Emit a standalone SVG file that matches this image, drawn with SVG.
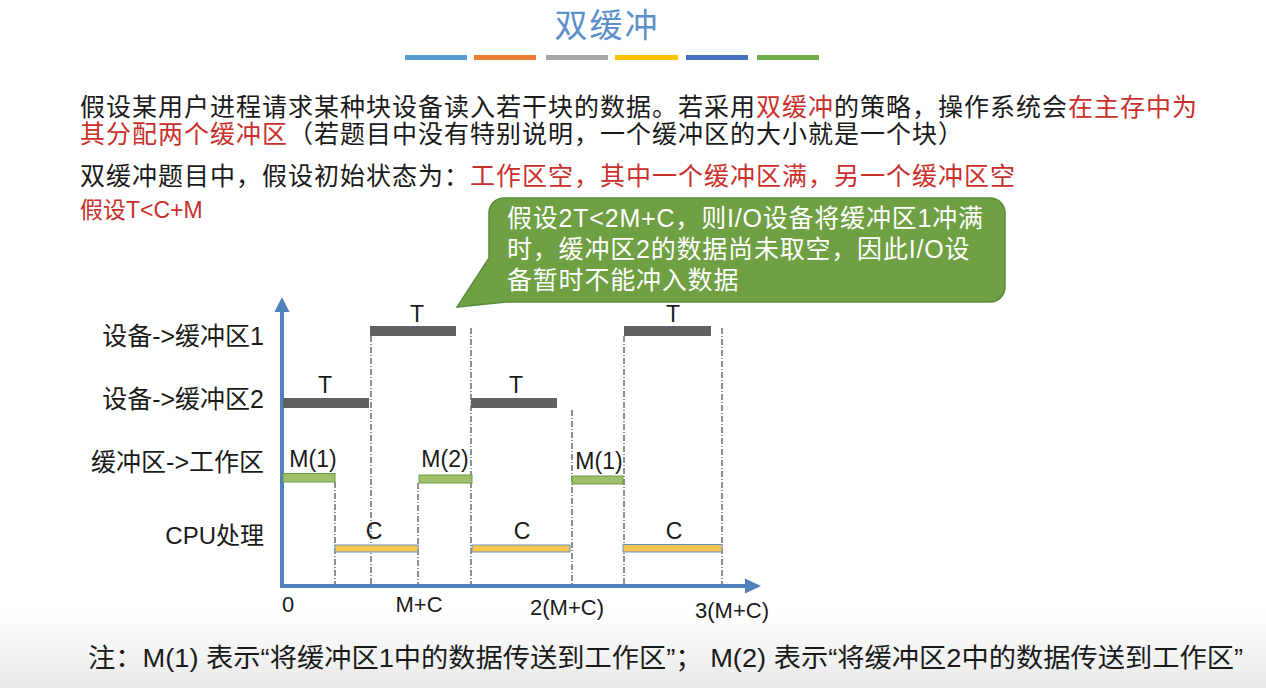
<svg xmlns="http://www.w3.org/2000/svg" width="1266" height="688" viewBox="0 0 1266 688">
<defs>
<style>
.cn{font-family:"Liberation Sans","Noto Sans CJK SC",sans-serif;}
.p{font-size:25px;letter-spacing:1px;fill:#1a1a1a;}
.r{fill:#c9302c;}
.lbl{font-size:25px;fill:#1a1a1a;text-anchor:end;}
.bl{font-size:23px;fill:#1a1a1a;text-anchor:middle;}
.xl{font-size:22px;fill:#1a1a1a;text-anchor:middle;}
.gray{fill:#616161;}
.green{fill:#9fbf6b;stroke:#6f9a45;stroke-width:1;}
.yel{fill:#f6c650;stroke:#6b8fc2;stroke-width:1;}
.dash{stroke:#222;stroke-width:1;stroke-dasharray:6,2,1,2;fill:none;}
.axis{stroke:#4f81bd;stroke-width:4;fill:none;}
.head{fill:#4f81bd;}
.ct{font-size:25px;letter-spacing:0.8px;fill:#ffffff;}
</style>
<linearGradient id="band" x1="0" y1="0" x2="0" y2="1">
<stop offset="0" stop-color="#ffffff"/>
<stop offset="1" stop-color="#e9e9e9"/>
</linearGradient>
</defs>
<rect x="0" y="0" width="1266" height="688" fill="#ffffff"/>
<rect x="0" y="612" width="1266" height="76" fill="url(#band)"/>

<g id="title">
<text class="cn" x="607" y="37" font-size="33" letter-spacing="2" fill="#5b8fc9" text-anchor="middle">双缓冲</text>
<rect x="405" y="55" width="62" height="5" fill="#5b9bd5"/>
<rect x="474" y="55" width="62" height="5" fill="#ed7d31"/>
<rect x="546" y="55" width="62" height="5" fill="#a5a5a5"/>
<rect x="615" y="55" width="63" height="5" fill="#ffc000"/>
<rect x="686" y="55" width="62" height="5" fill="#4472c4"/>
<rect x="757" y="55" width="62" height="5" fill="#70ad47"/>
</g>

<g id="paragraph" class="cn p">
<text x="80" y="116">假设某用户进程请求某种块设备读入若干块的数据。若采用<tspan class="r">双缓冲</tspan>的策略，操作系统会<tspan class="r">在主存中为</tspan></text>
<text x="80" y="143"><tspan class="r">其分配两个缓冲区</tspan>（若题目中没有特别说明，一个缓冲区的大小就是一个块）</text>
<text x="80" y="185">双缓冲题目中，假设初始状态为：<tspan class="r">工作区空，其中一个缓冲区满，另一个缓冲区空</tspan></text>
</g>
<g id="assumption">
<text class="cn r" x="80" y="218" font-size="23">假设T&lt;C+M</text>
</g>

<g id="callout">
<path d="M 504 198 H 990 A 15 15 0 0 1 1005 213 V 287 A 15 15 0 0 1 990 302 H 506 L 457 307 L 489 258 V 213 A 15 15 0 0 1 504 198 Z" fill="#6fa043" stroke="#5b8c3a" stroke-width="1.5"/>
<text class="cn ct" x="507" y="227">假设2T&lt;2M+C，则I/O设备将缓冲区1冲满</text>
<text class="cn ct" x="507" y="258">时，缓冲区2的数据尚未取空，因此I/O设</text>
<text class="cn ct" x="507" y="289">备暂时不能冲入数据</text>
</g>

<g id="row-labels" class="cn lbl">
<text x="264" y="345">设备-&gt;缓冲区1</text>
<text x="264" y="408">设备-&gt;缓冲区2</text>
<text x="264" y="471">缓冲区-&gt;工作区</text>
<text x="264" y="544" font-size="24">CPU处理</text>
</g>

<g id="connectors">
<line class="dash" x1="335" y1="482" x2="335" y2="586"/>
<line class="dash" x1="371" y1="336" x2="371" y2="586"/>
<line class="dash" x1="418" y1="483" x2="418" y2="586"/>
<line class="dash" x1="471" y1="328" x2="471" y2="586"/>
<line class="dash" x1="572" y1="410" x2="572" y2="586"/>
<line class="dash" x1="624" y1="336" x2="624" y2="586"/>
<line class="dash" x1="722" y1="328" x2="722" y2="586"/>
</g>

<g id="axes">
<line class="axis" x1="282" y1="588" x2="282" y2="310"/>
<polygon class="head" points="282,297 274.5,312 289.5,312"/>
<line class="axis" x1="280" y1="586" x2="746" y2="586"/>
<polygon class="head" points="761,586 745,578.5 745,593.5"/>
</g>

<g id="device-buffer1">
<rect class="gray" x="370" y="326" width="86" height="10"/>
<rect class="gray" x="624" y="326" width="87" height="10"/>
<text class="cn bl" x="417" y="322">T</text>
<text class="cn bl" x="673" y="322">T</text>
</g>

<g id="device-buffer2">
<rect class="gray" x="283" y="398" width="86" height="10"/>
<rect class="gray" x="471" y="398" width="86" height="10"/>
<text class="cn bl" x="325" y="393">T</text>
<text class="cn bl" x="516" y="393">T</text>
</g>

<g id="buffer-work">
<rect class="green" x="283" y="473.5" width="52" height="8.5"/>
<rect class="green" x="419" y="475" width="53" height="8"/>
<rect class="green" x="572" y="476" width="51" height="8"/>
<text class="cn bl" x="313" y="467">M(1)</text>
<text class="cn bl" x="445" y="467">M(2)</text>
<text class="cn bl" x="599" y="469">M(1)</text>
</g>

<g id="cpu">
<rect class="yel" x="335" y="545" width="83" height="7"/>
<rect class="yel" x="472" y="545" width="98" height="7"/>
<rect class="yel" x="623" y="544.5" width="99" height="7.5"/>
<text class="cn bl" x="374" y="539">C</text>
<text class="cn bl" x="522" y="539">C</text>
<text class="cn bl" x="674" y="539">C</text>
</g>

<g id="x-labels" class="cn xl">
<text x="288" y="612">0</text>
<text x="419" y="612">M+C</text>
<text x="567" y="615">2(M+C)</text>
<text x="732" y="618">3(M+C)</text>
</g>

<g id="footnote">
<text class="cn" x="88" y="667" font-size="26" fill="#1a1a1a" textLength="1155" lengthAdjust="spacingAndGlyphs">注：M(1) 表示“将缓冲区1中的数据传送到工作区”； M(2) 表示“将缓冲区2中的数据传送到工作区”</text>
</g>
</svg>
